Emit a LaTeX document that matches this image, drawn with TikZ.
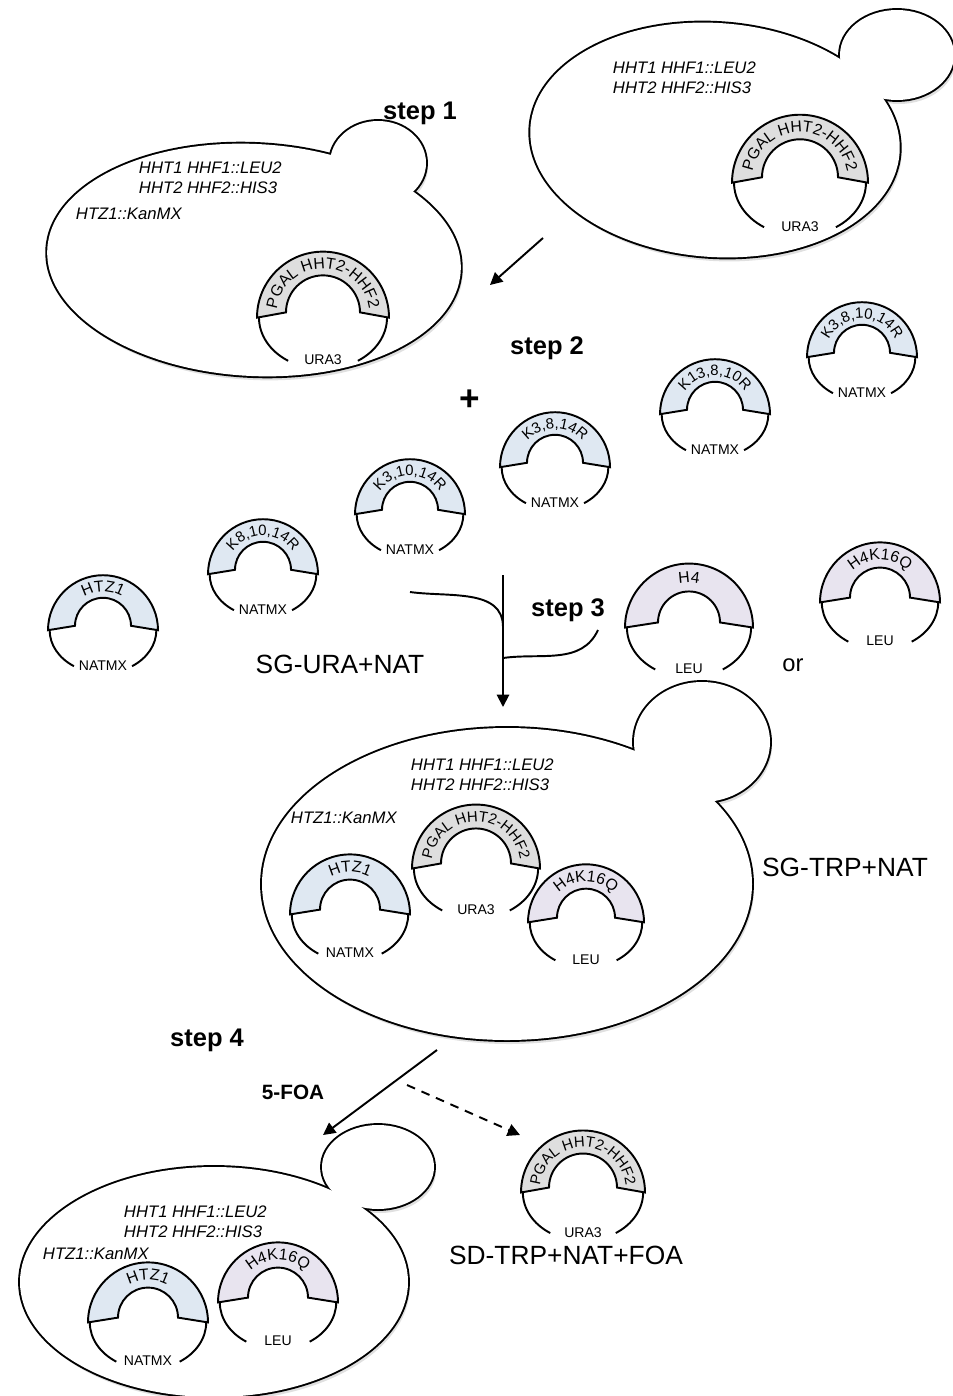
\documentclass[tikz,border=0pt]{standalone}
\usepackage{fontspec}
\setmainfont{Liberation Sans}
\usepackage{tikz}
\usetikzlibrary{arrows.meta,decorations.text}
\tikzset{
every picture/.style={
line width=1.1pt
}}
\definecolor{bandgray}{HTML}{DEDEDE}
\definecolor{bandblue}{HTML}{DFE8F2}
\definecolor{bandlilac}{HTML}{E8E4EF}
\tikzset{
  genotype/.style={font=\fontsize{9.5}{11.6}\selectfont\itshape, align=left, anchor=west, inner sep=0pt},
  stepname/.style={font=\fontsize{14.5}{17}\selectfont\bfseries},
  medium/.style={font=\fontsize{15}{18}\selectfont},
  marker/.style={font=\fontsize{8}{9}\selectfont, inner sep=0pt},
  arrowhead/.style={-{Triangle[length=7pt,width=7pt]}}
}
% yeast cell: name, body centre, x radius, y radius, tilt, bud centre, bud x radius, bud y radius
\newcommand{\yeast}[8]{%
  \coordinate (#1) at #2;
  \begin{scope}[shift={(2,-4)}]
    \fill[black!12, rotate around={#5:#2}] #2 ellipse[x radius=#3, y radius=#4];
    \fill[black!12] #6 ellipse[x radius=#7, y radius=#8];
  \end{scope}
  \draw[line width=2.2pt, rotate around={#5:#2}] #2 ellipse[x radius=#3, y radius=#4];
  \draw[line width=2.2pt] #6 ellipse[x radius=#7, y radius=#8];
  \fill[white, rotate around={#5:#2}] #2 ellipse[x radius=#3, y radius=#4];
  \fill[white] #6 ellipse[x radius=#7, y radius=#8];
}
% plasmid: name, centre, outer radius, inner radius, fill, insert, marker, insert font size
\newcommand{\plasmid}[8]{%
  \begin{scope}[shift={#2}]
    \coordinate (#1) at (0,0);
    \filldraw[fill=#5] (-#3,-0.04*#3) arc[start angle=180, end angle=0, radius=#3]
      -- (#4,0.04*#3) arc[start angle=0, end angle=180, radius=#4] -- cycle;
    \draw (-0.97*#3,-0.04*#3) arc[start angle=180, end angle=237, x radius=0.97*#3, y radius=0.78*#3];
    \draw (0.97*#3,-0.04*#3) arc[start angle=0, end angle=-57, x radius=0.97*#3, y radius=0.78*#3];
    \node[marker] (#1-m) at (0,{-0.68*#3}) {#7};
    \path[decorate, decoration={text along path, text align=center,
        text={|\fontsize{#8}{#8}\selectfont|#6}}]
      ({-(#3+#4)/2+5},0) arc[start angle=180, end angle=0, radius={(#3+#4)/2-5}];
  \end{scope}}

\begin{document}
\begin{tikzpicture}[x=0.02cm, y=0.02cm]
  \useasboundingbox (0,0) rectangle (953,-1396);

  % step 1
  \yeast{cellA}{(715,-140)}{185}{117}{-4}{(897,-55)}{57}{45}
  \node[genotype] (genoA) at (612,-78) {HHT1 HHF1::LEU2\\HHT2 HHF2::HIS3};
  \plasmid{galA}{(800,-180)}{68}{38}{bandgray}{PGAL HHT2-HHF2}{URA3}{9}
  \node[stepname] (step1) at (420,-113) {step 1};
  \coordinate (s1a) at (543,-238);
  \coordinate (s1b) at (490,-285);
  \draw[arrowhead] (s1a) -- (s1b);

  \yeast{cellB}{(254,-260)}{207}{116}{-3}{(378,-163)}{48}{42}
  \node[genotype] (genoB) at (138,-178) {HHT1 HHF1::LEU2\\HHT2 HHF2::HIS3};
  \node[genotype] (kanB) at (75,-214) {HTZ1::KanMX};
  \plasmid{galB}{(323,-315)}{66}{37}{bandgray}{PGAL HHT2-HHF2}{URA3}{9}

  % step 2
  \node[stepname] (step2) at (547,-348) {step 2};
  \node[font=\fontsize{20}{20}\selectfont\bfseries] (plus) at (470,-400) {+};
  \plasmid{htz}{(103,-628)}{55}{28}{bandblue}{HTZ1}{NATMX}{9}
  \plasmid{kA}{(263,-572)}{55}{28}{bandblue}{K8,10,14R}{NATMX}{8.5}
  \plasmid{kB}{(410,-512)}{55}{28}{bandblue}{K3,10,14R}{NATMX}{8.5}
  \plasmid{kC}{(555,-465)}{55}{28}{bandblue}{K3,8,14R}{NATMX}{8.5}
  \plasmid{kD}{(715,-412)}{55}{28}{bandblue}{K13,8,10R}{NATMX}{8.5}
  \plasmid{kE}{(862,-355)}{55}{28}{bandblue}{K3,8,10,14R}{NATMX}{8.5}
  \node[medium] (sgura) at (340,-664) {SG-URA+NAT};

  % step 3
  \node[stepname] (step3) at (568,-610) {step 3};
  \plasmid{hfour}{(689,-625)}{64}{31}{bandlilac}{H4}{LEU}{9}
  \node[font=\fontsize{13.5}{16}\selectfont] (or) at (793,-665) {or};
  \plasmid{hq}{(880,-600)}{60}{30}{bandlilac}{H4K16Q}{LEU}{9}
  \coordinate (join1) at (410,-592);
  \coordinate (join2) at (598,-630);
  \coordinate (top3) at (503,-575);
  \coordinate (mid3a) at (503,-627);
  \coordinate (mid3b) at (503,-658);
  \coordinate (end3) at (503,-707);
  \draw (join1) to[out=-8, in=90] (mid3a);
  \draw (mid3b) to[out=8, in=-115] (join2);
  \draw[arrowhead] (top3) -- (end3);

  \yeast{cellC}{(507,-884)}{245}{156}{0}{(702,-742)}{68}{60}
  \node[genotype] (genoC) at (410,-775) {HHT1 HHF1::LEU2\\HHT2 HHF2::HIS3};
  \node[genotype] (kanC) at (290,-818) {HTZ1::KanMX};
  \plasmid{htzC}{(350,-912)}{60}{30}{bandblue}{HTZ1}{NATMX}{9}
  \plasmid{galC}{(476,-866)}{64}{35}{bandgray}{PGAL HHT2-HHF2}{URA3}{8.5}
  \plasmid{hqC}{(586,-920)}{58}{29}{bandlilac}{H4K16Q}{LEU}{9}
  \node[medium] (sgtrp) at (845,-867) {SG-TRP+NAT};

  % step 4
  \node[stepname] (step4) at (207,-1040) {step 4};
  \node[font=\fontsize{11.8}{14}\selectfont\bfseries] (foa) at (293,-1092) {5-FOA};
  \coordinate (s4a) at (437,-1050);
  \coordinate (s4b) at (323,-1135);
  \coordinate (s4c) at (407,-1085);
  \coordinate (s4d) at (520,-1135);
  \draw[arrowhead] (s4a) -- (s4b);
  \draw[arrowhead, dash pattern=on 5pt off 4pt] (s4c) -- (s4d);
  \plasmid{galFree}{(583,-1190)}{62}{34}{bandgray}{PGAL HHT2-HHF2}{URA3}{8.5}
  \node[medium] (sdtrp) at (566,-1255) {SD-TRP+NAT+FOA};

  \yeast{cellD}{(214,-1282)}{194}{115}{0}{(378,-1167)}{56}{42}
  \node[genotype] (genoD) at (123,-1222) {HHT1 HHF1::LEU2\\HHT2 HHF2::HIS3};
  \node[genotype] (kanD) at (42,-1254) {HTZ1::KanMX};
  \plasmid{htzD}{(148,-1320)}{60}{30}{bandblue}{HTZ1}{NATMX}{9}
  \plasmid{hqD}{(278,-1300)}{60}{30}{bandlilac}{H4K16Q}{LEU}{9}
\end{tikzpicture}
\end{document}
